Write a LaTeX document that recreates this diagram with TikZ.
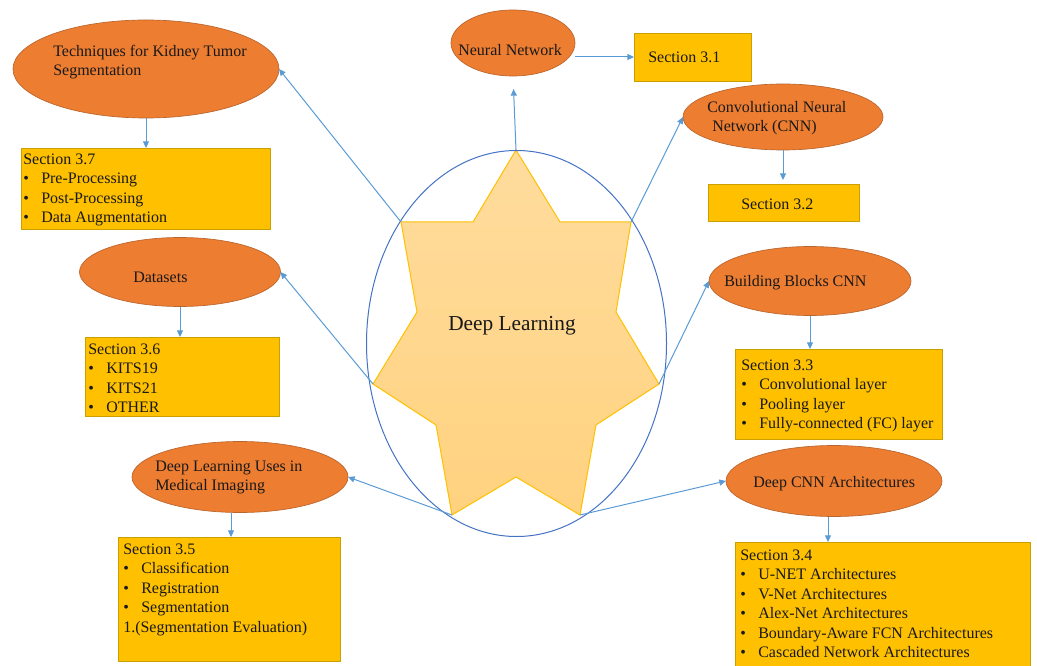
\documentclass[tikz,border=0pt]{standalone}
\usepackage{fontspec}
\setmainfont{Liberation Serif}
\usetikzlibrary{shapes.geometric,arrows.meta,calc}
\definecolor{orng}{HTML}{ED7D31}
\definecolor{orngline}{HTML}{B9652E}
\definecolor{gold}{HTML}{FFC000}
\definecolor{goldline}{HTML}{C9A000}
\definecolor{arrblue}{HTML}{5B9BD5}
\definecolor{ringblue}{HTML}{4472C4}
\definecolor{startop}{HTML}{FFDC9E}
\definecolor{starbot}{HTML}{FFD27F}
\definecolor{starline}{HTML}{FFC000}
\newcommand\itm[1]{\makebox[13.5pt][l]{\textbullet}#1}
\begin{document}
\begin{tikzpicture}[x=0.75pt,y=-0.75pt,
 topic/.style={ellipse,fill=orng,draw=orngline,line width=0.5pt,inner sep=0pt,outer sep=0pt},
 secbox/.style={rectangle,fill=gold,draw=goldline,line width=0.6pt,inner sep=0pt,outer sep=0pt,anchor=north west},
 txt/.style={anchor=north west,inner sep=0pt,align=left,font=\fontsize{12}{14.6}\selectfont,text=black!90},
 arr/.style={draw=arrblue,line width=0.75pt,-{Triangle[length=5pt,width=4.5pt]}},
]
\useasboundingbox (0,0) rectangle (1037,666);

% star
\coordinate (pT) at (516,150);
\coordinate (pUR) at (631,222);
\coordinate (pR) at (659,384);
\coordinate (pBR) at (580,515);
\coordinate (pBL) at (452,515);
\coordinate (pL) at (373,384);
\coordinate (pUL) at (401,222);
\path[top color=startop,bottom color=starbot,draw=starline,line width=0.75pt]
  (pT) -- (560,222) -- (pUR) -- (616,312) -- (pR) -- (596,425) -- (pBR) -- (516,477)
  -- (pBL) -- (436,425) -- (pL) -- (417,312) -- (pUL) -- (473,222) -- cycle;
\node[draw=ringblue,line width=0.75pt,ellipse,minimum width=225pt,minimum height=289.5pt,inner sep=0pt] (ring) at (516.5,343.5) {};
\node[anchor=base,inner sep=0pt,font=\fontsize{16}{19}\selectfont,text=black!90] (dl) at (512,330) {Deep Learning};

% topics
\node[topic,minimum width=199.5pt,minimum height=73.5pt] (tech) at (146,69) {};
\node[topic,minimum width=93pt,minimum height=49.5pt] (nn) at (513,43) {};
\node[topic,minimum width=150pt,minimum height=49.5pt] (cnn) at (783,117) {};
\node[topic,minimum width=151.5pt,minimum height=51.75pt] (bb) at (810,281) {};
\node[topic,minimum width=150.75pt,minimum height=51.75pt] (ds) at (180,272) {};
\node[topic,minimum width=162pt,minimum height=53.25pt] (dlu) at (240,477) {};
\node[topic,minimum width=162pt,minimum height=53.25pt] (dcnn) at (834,481) {};

% section boxes
\node[secbox,minimum width=87.75pt,minimum height=36pt] (s31) at (634,33) {};
\node[secbox,minimum width=186.75pt,minimum height=60.75pt] (s37) at (21,148) {};
\node[secbox,minimum width=113.25pt,minimum height=27.75pt] (s32) at (708,184) {};
\node[secbox,minimum width=155.25pt,minimum height=67.5pt] (s33) at (735,349) {};
\node[secbox,minimum width=145.5pt,minimum height=59.25pt] (s36) at (85,337) {};
\node[secbox,minimum width=166.5pt,minimum height=93pt] (s35) at (118,537) {};
\node[secbox,minimum width=221.25pt,minimum height=99pt] (s34) at (735,542) {};

% texts
\node[txt] (tTech) at (53,42.4) {\strut Techniques for Kidney Tumor\\Segmentation};
\node[txt] (tNN) at (458,41.4) {\strut Neural Network};
\node[txt] (tCNN) at (707,98.4) {\strut Convolutional Neural\\\hspace*{3.75pt}Network (CNN)};
\node[txt] (tBB) at (724,272.4) {\strut Building Blocks CNN};
\node[txt] (tDS) at (133,268.4) {\strut Datasets};
\node[txt] (tDLU) at (155,457.4) {\strut Deep Learning Uses in\\Medical Imaging};
\node[txt] (tDCNN) at (753,473.4) {\strut Deep CNN Architectures};
\node[txt] (t31) at (648,48.4) {\strut Section 3.1};
\node[txt] (t32) at (741,195.4) {\strut Section 3.2};
\node[txt] (t37) at (23,150.4) {\strut Section 3.7\\\itm{Pre-Processing}\\\itm{Post-Processing}\\\itm{Data Augmentation}};
\node[txt] (t36) at (88,340.4) {\strut Section 3.6\\\itm{KITS19}\\\itm{KITS21}\\\itm{OTHER}};
\node[txt] (t35) at (123,540.4) {\strut Section 3.5\\\itm{Classification}\\\itm{Registration}\\\itm{Segmentation}\\1.(Segmentation Evaluation)};
\node[txt] (t33) at (741,356.4) {\strut Section 3.3\\\itm{Convolutional layer}\\\itm{Pooling layer}\\\itm{Fully-connected (FC) layer}};
\node[txt] (t34) at (740,546.4) {\strut Section 3.4\\\itm{U-NET Architectures}\\\itm{V-Net Architectures}\\\itm{Alex-Net Architectures}\\\itm{Boundary-Aware FCN Architectures}\\\itm{Cascaded Network Architectures}};

% connectors
\draw[arr,shorten >=9.75pt] (pT) -- (nn.south);
\draw[arr] (nn.east |- s31.west) -- (s31.west);
\draw[arr] (pUR) -- (cnn.west);
\draw[arr] (pUL) -- (tech.east);
\draw[arr] (pL) -- (ds.east);
\draw[arr] (pBL) -- (dlu.east);
\draw[arr] (pBR) -- (dcnn.west);
\draw[arr] (pR) -- (bb.west);
\draw[arr] (tech.south) -- (tech.south |- s37.north);
\draw[arr,shorten >=3pt] (cnn.south) -- (cnn.south |- s32.north);
\draw[arr] (bb.south) -- (bb.south |- s33.north);
\draw[arr] (ds.south) -- (ds.south |- s36.north);
\coordinate (dluS) at ([xshift=-6.75pt]dlu.south);
\draw[arr] (dluS) -- (dluS |- s35.north);
\coordinate (dcnnS) at ([xshift=-4.5pt]dcnn.south);
\draw[arr] (dcnnS) -- (dcnnS |- s34.north);
\end{tikzpicture}
\end{document}
